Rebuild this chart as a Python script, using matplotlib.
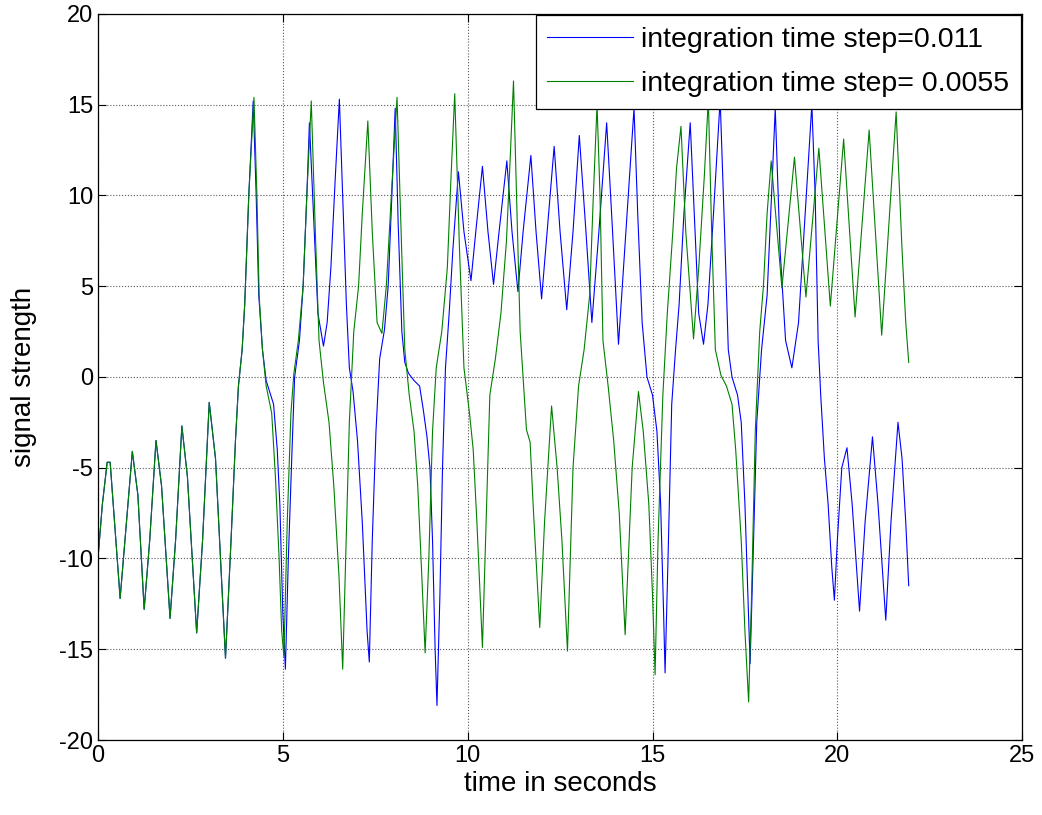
import matplotlib
matplotlib.use("Agg")
import matplotlib.pyplot as plt

# ---------------------------------------------------------------------------
# Data (turning points and shoulders of each signal)
# ---------------------------------------------------------------------------
# start of the run: both integrations still agree
t_common = [0.0, 0.12, 0.25, 0.33, 0.45, 0.6, 0.75, 0.93, 1.08, 1.25, 1.40,
            1.57, 1.72, 1.95, 2.10, 2.27, 2.42, 2.67, 2.83, 3.01, 3.18, 3.45,
            3.60, 3.72, 3.80, 3.90, 3.97, 4.08]
v_common = [-10.0, -7.0, -4.7, -4.7, -8.0, -12.2, -8.5, -4.1, -6.5, -12.8,
            -9.0, -3.5, -6.0, -13.3, -9.0, -2.7, -5.5, -14.1, -9.0, -1.4,
            -4.5, -15.5, -9.0, -3.5, -0.5, 1.5, 4.0, 10.0]

# step 0.011 (blue)
t_blue = [4.20, 4.28, 4.35, 4.45, 4.55, 4.75, 4.85, 4.92, 5.00, 5.07, 5.15,
          5.25, 5.32, 5.45, 5.55, 5.65, 5.72, 5.85, 5.95, 6.10, 6.20, 6.30,
          6.42, 6.53, 6.62, 6.72, 6.80, 6.90, 7.02, 7.15, 7.28, 7.34, 7.42,
          7.52, 7.62, 7.75, 7.85, 7.95, 8.04, 8.12, 8.22, 8.30, 8.40, 8.55,
          8.70, 8.80, 8.90, 8.98, 9.05, 9.12, 9.17, 9.25, 9.32, 9.40, 9.50,
          9.60, 9.75, 9.90, 10.09, 10.22, 10.40, 10.55, 10.70, 10.85, 11.06,
          11.20, 11.36, 11.50, 11.71, 11.85, 12.00, 12.15, 12.34, 12.50,
          12.68, 12.85, 13.02, 13.20, 13.36, 13.55, 13.76, 13.92, 14.08,
          14.28, 14.50, 14.60, 14.72, 14.85, 15.00, 15.12, 15.22, 15.30,
          15.34, 15.42, 15.52, 15.62, 15.72, 15.85, 16.02, 16.15, 16.25,
          16.38, 16.50, 16.65, 16.83, 16.95, 17.05, 17.15, 17.30, 17.40,
          17.50, 17.58, 17.64, 17.72, 17.82, 17.95, 18.10, 18.22, 18.32,
          18.45, 18.60, 18.77, 18.95, 19.10, 19.31, 19.40, 19.48, 19.55,
          19.65, 19.75, 19.85, 19.92, 20.00, 20.12, 20.26, 20.40, 20.60,
          20.75, 20.95, 21.10, 21.31, 21.45, 21.64, 21.75, 21.85, 21.93]
v_blue = [15.2, 10.0, 4.5, 1.5, -0.2, -1.5, -4.0, -7.0, -13.0, -16.1, -10.0,
          -4.0, 0.0, 2.0, 5.0, 10.0, 14.0, 8.0, 3.5, 1.7, 3.0, 6.0, 11.0,
          15.3, 10.0, 4.0, 0.5, -0.8, -3.5, -8.0, -14.0, -15.7, -9.0, -3.0,
          1.0, 2.6, 5.0, 10.0, 14.8, 8.5, 2.5, 0.8, 0.2, -0.2, -0.5, -1.8,
          -3.3, -5.0, -9.0, -15.0, -18.1, -12.0, -5.0, 0.5, 3.5, 7.0, 11.3,
          8.0, 5.3, 8.0, 11.6, 8.0, 5.1, 8.0, 11.9, 8.0, 4.7, 8.0, 12.2, 8.0,
          4.3, 8.0, 12.7, 8.0, 3.7, 8.0, 13.3, 8.0, 3.0, 8.0, 14.0, 8.0, 1.8,
          8.0, 14.8, 9.0, 3.0, 0.0, -1.0, -3.0, -7.0, -13.0, -16.3, -10.0,
          -1.5, 1.4, 4.0, 9.0, 14.0, 8.0, 3.5, 1.8, 4.0, 9.0, 15.3, 8.0, 1.5,
          0.0, -1.0, -2.5, -7.0, -12.0, -15.8, -10.0, -2.5, 1.5, 4.5, 10.0,
          14.8, 7.0, 2.0, 0.5, 3.0, 8.0, 15.0, 10.0, 2.0, -1.0, -4.5, -7.0,
          -10.5, -12.3, -9.0, -5.0, -3.9, -7.0, -12.9, -8.0, -3.3, -7.0,
          -13.4, -8.0, -2.5, -4.5, -8.0, -11.5]

# step 0.0055 (green)
t_green = [4.22, 4.30, 4.36, 4.45, 4.55, 4.70, 4.80, 4.90, 4.97, 5.03, 5.12,
           5.22, 5.30, 5.42, 5.55, 5.65, 5.77, 5.88, 5.98, 6.10, 6.25, 6.38,
           6.52, 6.62, 6.70, 6.80, 6.92, 7.05, 7.15, 7.30, 7.42, 7.55, 7.68,
           7.80, 7.95, 8.09, 8.20, 8.30, 8.42, 8.55, 8.65, 8.75, 8.85, 8.95,
           9.05, 9.15, 9.30, 9.45, 9.55, 9.65, 9.78, 9.90, 10.05, 10.15,
           10.25, 10.40, 10.50, 10.60, 10.75, 10.90, 11.05, 11.15, 11.24,
           11.35, 11.42, 11.59, 11.69, 11.78, 11.95, 12.08, 12.27, 12.42,
           12.55, 12.70, 12.85, 13.00, 13.15, 13.30, 13.40, 13.50, 13.58,
           13.66, 13.80, 13.95, 14.10, 14.26, 14.45, 14.62, 14.75, 14.90,
           15.00, 15.07, 15.15, 15.28, 15.40, 15.55, 15.65, 15.77, 15.90,
           16.11, 16.25, 16.40, 16.51, 16.60, 16.70, 16.85, 17.00, 17.15,
           17.25, 17.40, 17.50, 17.60, 17.68, 17.78, 17.90, 18.00, 18.10,
           18.21, 18.50, 18.84, 19.15, 19.50, 19.81, 20.17, 20.48, 20.86,
           21.20, 21.59, 21.75, 21.85, 21.93]
v_green = [15.4, 10.0, 4.5, 1.5, -0.5, -2.0, -5.5, -10.0, -14.0, -15.4, -8.0,
           -2.0, 0.2, 2.0, 5.0, 10.0, 15.2, 8.0, 2.0, -0.3, -2.5, -6.0, -11.0,
           -16.1, -10.0, -2.5, 2.5, 5.0, 9.0, 14.1, 8.0, 3.0, 2.4, 5.0, 10.5,
           15.4, 8.0, 1.5, -1.0, -3.0, -6.0, -10.5, -15.2, -10.0, -3.0, 0.5,
           2.5, 6.0, 11.0, 15.6, 7.0, 0.5, -2.0, -4.0, -8.0, -14.9, -8.0,
           -1.0, 1.0, 3.5, 7.5, 12.0, 16.3, 8.0, 2.5, -2.9, -3.6, -7.4, -13.8,
           -8.0, -1.6, -5.0, -9.0, -15.1, -5.0, -0.5, 1.5, 4.5, 10.0, 15.0,
           10.0, 2.0, -0.5, -3.5, -7.5, -14.2, -5.0, -0.8, -3.0, -7.0, -12.0,
           -16.4, -9.0, -1.0, 3.5, 8.0, 11.5, 13.8, 8.0, 2.1, 6.0, 11.0, 15.3,
           8.0, 1.5, 0.1, -0.5, -1.5, -4.0, -9.0, -14.0, -17.9, -12.0, -3.0,
           2.5, 5.0, 9.0, 11.9, 4.9, 12.1, 4.4, 12.6, 3.9, 13.1, 3.3, 13.6,
           2.3, 14.6, 7.0, 3.0, 0.8]

labels = ["integration time step=0.011", "integration time step= 0.0055"]
x_ticks = [0, 5, 10, 15, 20, 25]
y_ticks = [-20, -15, -10, -5, 0, 5, 10, 15, 20]

# ---------------------------------------------------------------------------
# Plotting
# ---------------------------------------------------------------------------
plt.rcParams['font.family'] = ['Liberation Sans', 'DejaVu Sans']
plt.rcParams['axes.unicode_minus'] = False

fig = plt.figure(figsize=(10.42, 8.15), dpi=100, facecolor='w')
ax = fig.add_axes([0.094, 0.092, 0.887, 0.891])

ax.plot(t_common + t_blue, v_common + v_blue, color=(0, 0, 1),
        lw=0.8, label=labels[0])
ax.plot(t_common + t_green, v_common + v_green, color=(0, 0.5, 0),
        lw=0.8, label=labels[1])

ax.set_xlim(0, 25)
ax.set_ylim(-20, 20)
ax.set_xticks(x_ticks)
ax.set_yticks(y_ticks)
ax.tick_params(direction='in', length=6, width=0.8, top=True, right=True,
               labelsize=17)
ax.grid(True, linestyle=':', color='0.35', linewidth=0.8)
for s in ax.spines.values():
    s.set_linewidth(0.9)

ax.set_xlabel("time in seconds", size=20, labelpad=3)
ax.set_ylabel("signal strength", size=20, labelpad=16)

leg = ax.legend(loc='upper right', fontsize=20.5, fancybox=False,
                framealpha=1, edgecolor='k', borderaxespad=0.05,
                handlelength=3.0, handletextpad=0.3, borderpad=0.4,
                labelspacing=0.65)
leg.get_frame().set_linewidth(0.9)

fig.savefig("out.png", dpi=100)
plt.close(fig)
